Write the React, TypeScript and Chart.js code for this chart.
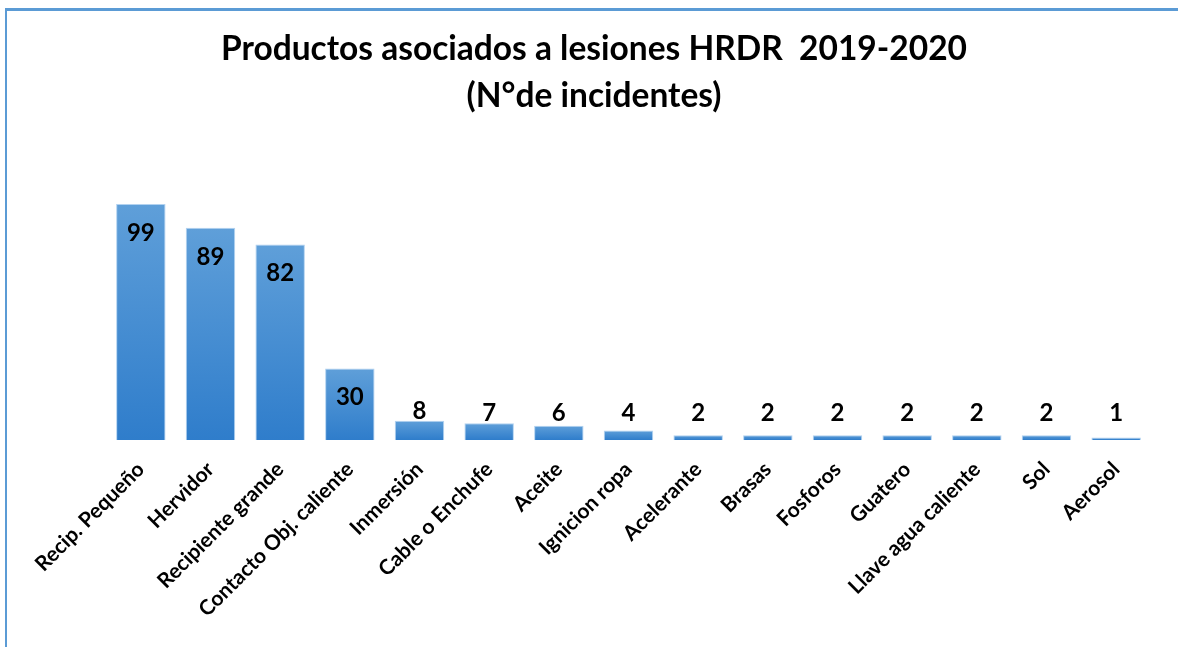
import React, { useEffect, useRef } from "react";
import { Chart, registerables } from "chart.js";

Chart.register(...registerables);

const categories = [
  "Recip. Pequeño",
  "Hervidor",
  "Recipiente grande",
  "Contacto Obj. caliente",
  "Inmersión",
  "Cable o Enchufe",
  "Aceite",
  "Ignicion ropa",
  "Acelerante",
  "Brasas",
  "Fosforos",
  "Guatero",
  "Llave agua caliente",
  "Sol",
  "Aerosol",
];

const values = [99, 89, 82, 30, 8, 7, 6, 4, 2, 2, 2, 2, 2, 2, 1];

const titleLines = ["Productos asociados a lesiones HRDR  2019-2020", "(N°de incidentes)"];

export default function App() {
  const ref = useRef<HTMLCanvasElement>(null);

  useEffect(() => {
    if (!ref.current) return;
    const labelPlugin = {
      id: "valueLabels",
      afterDatasetsDraw(chart: any) {
        const { ctx } = chart;
        const meta = chart.getDatasetMeta(0);
        const base = chart.scales.y.getPixelForValue(0);
        ctx.save();
        ctx.font = "bold 24px Lato";
        ctx.fillStyle = "#000";
        ctx.textAlign = "center";
        ctx.textBaseline = "middle";
        meta.data.forEach((bar: any, i: number) => {
          const v = values[i];
          const y = v >= 20 ? bar.y + 29 : Math.min(bar.y - 10, base - 27);
          ctx.fillText(String(v), bar.x, y);
        });
        ctx.restore();
      },
    };

    const titlePlugin = {
      id: "customTitle",
      afterDraw(chart: any) {
        const { ctx } = chart;
        ctx.save();
        ctx.font = "bold 33.5px Lato";
        ctx.fillStyle = "#000";
        ctx.textAlign = "center";
        ctx.textBaseline = "alphabetic";
        ctx.fillText(titleLines[0], 594, 60);
        ctx.fillText(titleLines[1], 594, 107);
        ctx.restore();
      },
    };

    const chart = new Chart(ref.current, {
      type: "bar",
      data: {
        labels: categories,
        datasets: [
          {
            data: values,
            backgroundColor: (c: any) => {
              const chartObj = c.chart;
              const ys = chartObj.scales && chartObj.scales.y;
              if (!ys || c.raw === undefined) return "#4a8fd3";
              const top = ys.getPixelForValue(c.raw);
              const bottom = ys.getPixelForValue(0);
              if (!isFinite(top) || !isFinite(bottom) || top === bottom) return "#4a8fd3";
              const g = chartObj.ctx.createLinearGradient(0, top, 0, bottom);
              g.addColorStop(0, "#5f9fd9");
              g.addColorStop(1, "#2f7dcb");
              return g;
            },
            borderColor: "rgba(170,205,238,0.9)",
            borderWidth: 1,
            barPercentage: 0.71,
            categoryPercentage: 1,
          },
        ],
      },
      options: {
        responsive: false,
        animation: false,
        layout: { padding: { left: 106, right: 27, top: 154, bottom: 8 } },
        plugins: {
          legend: { display: false },
          tooltip: { enabled: false },
          title: { display: false },
        },
        scales: {
          x: {
            grid: { display: false, drawTicks: false },
            border: { display: false },
            ticks: {
              autoSkip: false,
              maxRotation: 45,
              minRotation: 45,
              color: "#000",
              padding: 17,
              font: { family: "Lato", size: 21, weight: "bold" },
            },
          },
          y: { display: false, min: 0, max: 120 },
        },
      },
      plugins: [labelPlugin, titlePlugin],
    } as any);

    return () => chart.destroy();
  }, []);

  return (
    <div style={{ position: "fixed", left: 0, top: 0, width: 1178, height: 647, background: "#fff", overflow: "hidden" }}>
      <div
        style={{
          position: "absolute",
          left: 5,
          top: 8,
          width: 1200,
          height: 700,
          borderLeft: "2px solid #5b9bd5",
          borderTop: "3px solid #5b9bd5",
        }}
      />
      <canvas ref={ref} width={1178} height={647} style={{ position: "absolute", left: 0, top: 0, display: "block" }} />
    </div>
  );
}
